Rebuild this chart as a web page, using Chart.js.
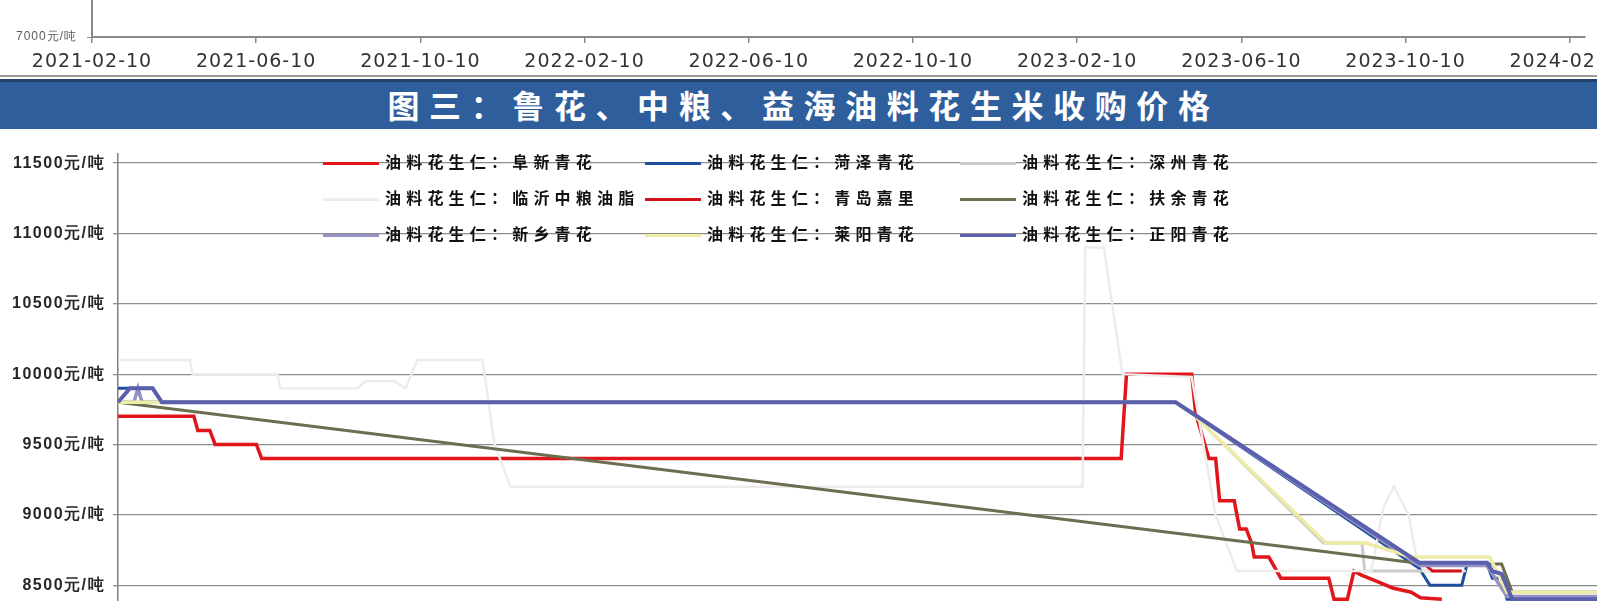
<!DOCTYPE html>
<html><head><meta charset="utf-8">
<script src="https://cdn.jsdelivr.net/npm/chart.js@4.4.0/dist/chart.umd.min.js"></script>
<style>
html,body{margin:0;padding:0;background:#fff;}
body{width:1597px;height:601px;overflow:hidden;position:relative;font-family:"Noto Sans CJK SC",sans-serif;}
#top{position:absolute;left:0;top:-220px;}
#sep{position:absolute;left:0;top:75px;width:1597px;height:2px;background:#9a9a9a;}
#banner{position:absolute;left:0;top:79px;width:1597px;height:50px;background:#2f5e9c;border-top:3px solid #22426b;box-sizing:border-box;color:#fff;font-weight:700;font-size:32px;letter-spacing:9.6px;text-align:center;line-height:45px;padding-left:10px;font-family:"Noto Sans CJK SC",sans-serif;}
#main{position:absolute;left:0;top:130px;}
.lg{position:absolute;height:20px;font-size:16px;font-weight:700;letter-spacing:5.2px;color:#111;white-space:nowrap;line-height:20px;font-family:"Noto Sans CJK SC",sans-serif;}
.lg i{display:inline-block;width:56px;height:3px;vertical-align:middle;margin-right:6px;}
</style>
</head>
<body>
<canvas id="top" width="1640" height="300"></canvas>
<div id="sep"></div>
<div id="banner">图三：鲁花、中粮、益海油料花生米收购价格</div>
<canvas id="main" width="1660" height="546"></canvas>
<div id="legend"></div>
<script>
// ---------- upper (cropped) chart tick labels ----------
const topTickLabels = ['2021-02-10','2021-06-10','2021-10-10','2022-02-10','2022-06-10','2022-10-10','2023-02-10','2023-06-10','2023-10-10','2024-02-10'];
const topYTicks = [7000,8000,9000,10000,11000,12000];

// ---------- lower chart ----------
const seriesNames = ['油料花生仁：阜新青花','油料花生仁：菏泽青花','油料花生仁：深州青花','油料花生仁：临沂中粮油脂','油料花生仁：青岛嘉里','油料花生仁：扶余青花','油料花生仁：新乡青花','油料花生仁：莱阳青花','油料花生仁：正阳青花'];
const yTicks = [8000,8500,9000,9500,10000,10500,11000,11500];
const startDate = '2021-02-10';
const endDate = '2024-04-14';

const fuxin = [['2021-02-10',9700],['2021-04-08',9700],['2021-04-11',9600],['2021-04-20',9600],['2021-04-24',9500],['2021-05-25',9500],['2021-05-29',9400],['2023-03-06',9400],['2023-03-10',10000],['2023-04-28',10000],['2023-05-01',9720],['2023-05-11',9400],['2023-05-16',9400],['2023-05-19',9100],['2023-05-30',9100],['2023-06-03',8900],['2023-06-08',8900],['2023-06-12',8800],['2023-06-14',8700],['2023-06-25',8700],['2023-07-04',8550],['2023-08-09',8550],['2023-08-13',8400],['2023-08-23',8400],['2023-08-28',8600],['2023-09-03',8570],['2023-09-11',8540],['2023-09-16',8520],['2023-09-26',8480],['2023-10-10',8450],['2023-10-17',8410],['2023-11-02',8400]];
const heze = [['2021-02-10',9900],['2021-03-08',9900],['2021-03-15',9800],['2023-04-16',9800],['2023-10-16',8620],['2023-10-24',8500],['2023-11-17',8500],['2023-11-21',8650],['2023-12-06',8650],['2023-12-10',8550],['2023-12-17',8550],['2023-12-21',8400],['2024-04-14',8400]];
const shenzhou = [['2021-02-10',9800],['2023-04-16',9800],['2023-04-28',9725],['2023-08-05',8800],['2023-09-03',8800],['2023-09-05',8600],['2023-10-14',8600],['2023-11-10',8600]];
const linyi = [['2021-02-10',10100],['2021-04-05',10100],['2021-04-07',10000],['2021-06-10',10000],['2021-06-12',9900],['2021-08-09',9900],['2021-08-15',9950],['2021-09-06',9950],['2021-09-14',9900],['2021-09-23',10100],['2021-11-11',10100],['2021-11-20',9500],['2021-12-02',9200],['2023-02-05',9200],['2023-02-07',10900],['2023-02-21',10900],['2023-03-07',10000],['2023-04-28',9980],['2023-05-16',9000],['2023-06-01',8600],['2023-09-10',8600],['2023-09-19',9050],['2023-09-27',9200],['2023-10-08',9000],['2023-10-14',8700],['2023-10-20',8600],['2023-11-20',8600]];
const qingdao = [['2023-10-20',8650],['2023-10-26',8600],['2023-11-17',8600]];
const fuyu = [['2021-02-10',9800],['2023-10-20',8650],['2023-12-17',8650],['2023-12-25',8450],['2024-04-14',8450]];
const xinxiang = [['2021-02-10',9800],['2021-02-22',9800],['2021-02-25',9900],['2021-02-28',9800],['2023-04-16',9800],['2023-10-16',8640],['2023-12-06',8640],['2023-12-21',8420],['2024-04-14',8420]];
const laiyang = [['2021-02-10',9800],['2023-04-16',9800],['2023-04-28',9725],['2023-08-07',8800],['2023-09-06',8800],['2023-10-10',8700],['2023-12-08',8700],['2023-12-21',8450],['2024-04-14',8450]];
const zhengyang = [['2021-02-10',9800],['2021-02-19',9900],['2021-03-08',9900],['2021-03-15',9800],['2023-04-16',9800],['2023-10-16',8660],['2023-12-06',8660],['2023-12-10',8600],['2023-12-17',8580],['2023-12-25',8400],['2024-04-14',8400]];

const seriesData = [fuxin, heze, shenzhou, linyi, qingdao, fuyu, xinxiang, laiyang, zhengyang];
const seriesColors = ['#e0161b','#1f4e9c','#cacaca','#efebeb','#d4121a','#6d6d50','#9494c4','#ececa6','#5b60ae'];
const seriesWidths = [3.5,3,3,2.5,3,3,3.5,3.5,4];

function dayOf(s){
  const p = s.split('-').map(Number), q = startDate.split('-').map(Number);
  return (Date.UTC(p[0],p[1]-1,p[2]) - Date.UTC(q[0],q[1]-1,q[2]))/86400000;
}

// ---------- upper chart ----------
const topSpacing = { id: 'topSpacing', beforeDraw: c => { c.ctx.letterSpacing = '1px'; } };
new Chart(document.getElementById('top'), {
  type: 'line',
  data: { datasets: [] },
  options: {
    responsive: false, animation: false, devicePixelRatio: 1,
    layout: { autoPadding: false, padding: { left: 0, right: 55, top: 10, bottom: 0 } },
    plugins: { legend: { display: false }, tooltip: { enabled: false } },
    scales: {
      x: {
        type: 'linear', min: 0, max: 9.093,
        afterBuildTicks: s => { s.ticks = topTickLabels.map((_, i) => ({ value: i })); },
        afterFit: s => { s.height = 43; },
        grid: { drawOnChartArea: false, drawTicks: true, tickLength: 6, color: '#8a8a8a', lineWidth: 1.5 },
        border: { color: '#8a8a8a', width: 2 },
        ticks: { autoSkip: false, maxRotation: 0, padding: 8, color: '#333333',
                 font: { family: 'DejaVu Sans', size: 19 }, callback: v => topTickLabels[v] }
      },
      y: {
        min: topYTicks[0], max: topYTicks[topYTicks.length - 1],
        afterBuildTicks: s => { s.ticks = topYTicks.map(v => ({ value: v })); },
        afterFit: s => { s.width = 92; },
        grid: { drawOnChartArea: false, tickLength: 5, color: '#8a8a8a' },
        border: { color: '#8a8a8a', width: 2 },
        ticks: { padding: 10, color: '#595959', font: { family: 'Liberation Sans', size: 12 }, callback: v => v + '元/吨' }
      }
    }
  },
  plugins: [topSpacing]
});

// ---------- lower chart ----------
const spacing = { id: 'spacing', beforeDraw: c => { c.ctx.letterSpacing = '1.5px'; } };
new Chart(document.getElementById('main'), {
  type: 'line',
  data: {
    datasets: seriesData.map((arr, i) => ({
      label: seriesNames[i],
      data: arr.map(([d, v]) => ({ x: dayOf(d), y: v })),
      borderColor: seriesColors[i],
      borderWidth: seriesWidths[i],
      pointRadius: 0, tension: 0, fill: false,
      order: seriesData.length - 1 - i
    }))
  },
  options: {
    responsive: false, animation: false, devicePixelRatio: 1,
    layout: { autoPadding: false, padding: { left: 0, right: 0, top: 23.3, bottom: 20.5 } },
    plugins: { legend: { display: false }, tooltip: { enabled: false } },
    scales: {
      x: { type: 'linear', display: false, min: 0, max: dayOf(endDate) },
      y: {
        min: 8000, max: 11570,
        afterBuildTicks: s => { s.ticks = yTicks.map(v => ({ value: v })); },
        afterFit: s => { s.width = 118; },
        grid: { color: '#8c8c8c', lineWidth: 1.3, tickLength: 5 },
        border: { color: '#808080', width: 1.5 },
        ticks: { padding: 8, color: '#262626', font: { family: 'Liberation Sans', size: 16, weight: 'bold' },
                 callback: v => v + '元/吨' }
      }
    }
  },
  plugins: [spacing]
});

// ---------- legend (3 x 3 grid) ----------
const legCols = [323, 645, 960];
const legRows = [161, 197, 233];
const lg = document.getElementById('legend');
seriesNames.forEach((n, i) => {
  const d = document.createElement('div');
  d.className = 'lg';
  d.style.left = legCols[i % 3] + 'px';
  d.style.top = (legRows[Math.floor(i / 3)] - 10) + 'px';
  d.innerHTML = '<i style="background:' + seriesColors[i] + '"></i><span>' + n + '</span>';
  lg.appendChild(d);
});
</script>
</body></html>
